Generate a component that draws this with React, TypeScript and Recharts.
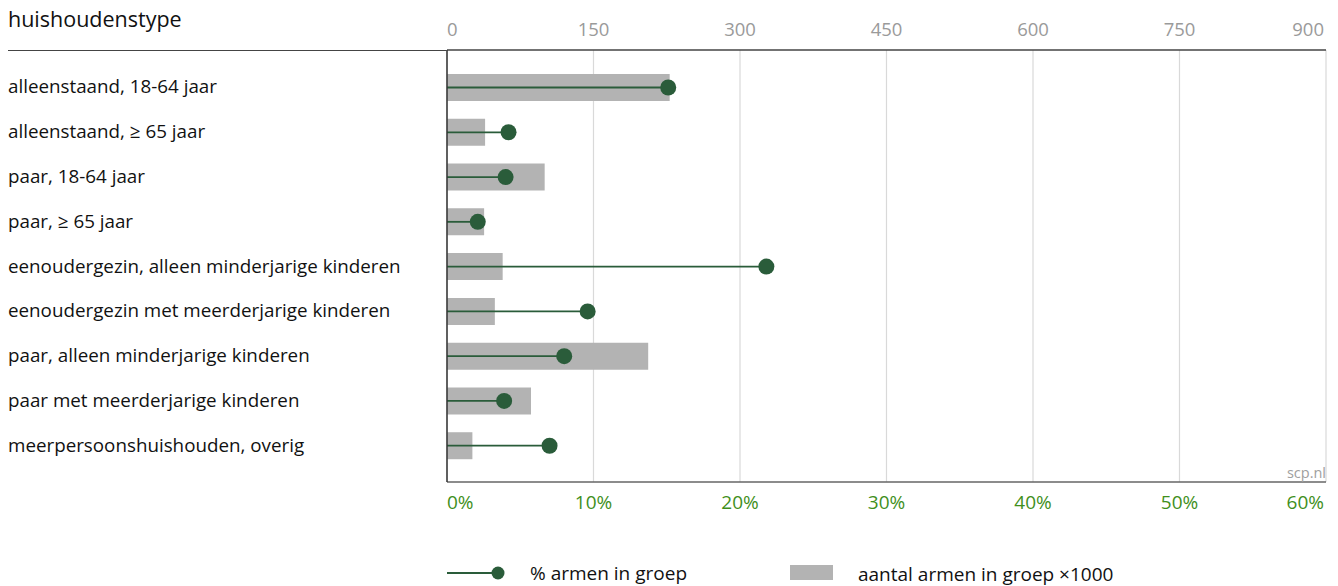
import React from 'react';
import { ComposedChart, Bar, XAxis, YAxis, CartesianGrid } from 'recharts';

const categories = [
  'alleenstaand, 18-64 jaar',
  'alleenstaand, ≥ 65 jaar',
  'paar, 18-64 jaar',
  'paar, ≥ 65 jaar',
  'eenoudergezin, alleen minderjarige kinderen',
  'eenoudergezin met meerderjarige kinderen',
  'paar, alleen minderjarige kinderen',
  'paar met meerderjarige kinderen',
  'meerpersoonshuishouden, overig',
];
const aantalArmen = [228, 39, 100, 38, 57, 49, 206, 86, 26];
const pctArmen = [15.1, 4.2, 4.0, 2.1, 21.8, 9.6, 8.0, 3.9, 7.0];
const topTicks = [0, 150, 300, 450, 600, 750, 900];
const bottomTicks = [0, 10, 20, 30, 40, 50, 60];

const data = categories.map((name, i) => ({ name, aantal: aantalArmen[i], pct: pctArmen[i] }));

const FONT = '"Open Sans", "Noto Sans", sans-serif';
const GREEN = '#2a5c3a';
const GRAY_BAR = '#b3b3b3';

const W = 1322;
const H = 520;
const PLOT_LEFT = 439;
const PLOT_RIGHT = 1318;

const anchorFor = (index: number, total: number) =>
  index === 0 ? 'start' : index === total - 1 ? 'end' : 'middle';

const TopTick = (props: any) => {
  const { x, y, payload, index } = props;
  return (
    <text x={index === topTicks.length - 1 ? x - 2 : x} y={y - 8} textAnchor={anchorFor(index, topTicks.length)} fill="#9a9a9a" fontSize={18.5} fontFamily={FONT}>
      {payload.value}
    </text>
  );
};

const BottomTick = (props: any) => {
  const { x, y, payload, index } = props;
  return (
    <text x={index === bottomTicks.length - 1 ? x - 2 : x} y={y + 21} textAnchor={anchorFor(index, bottomTicks.length)} fill="#3f8f1c" fontSize={19} fontFamily={FONT}>
      {payload.value + '%'}
    </text>
  );
};

const LeftTick = (props: any) => {
  const { y, payload } = props;
  return (
    <text x={0} y={y} dy={6} textAnchor="start" fill="#111" fontSize={18.8} fontFamily={FONT}>
      {payload.value}
    </text>
  );
};

const Lollipop = (props: any) => {
  const { x, y, width, height } = props;
  const cy = y + height / 2;
  return (
    <g>
      <line x1={x} y1={cy} x2={x + width} y2={cy} stroke={GREEN} strokeWidth={1.8} />
      <circle cx={x + width} cy={cy} r={8} fill={GREEN} />
    </g>
  );
};

export default function App() {
  return (
    <div style={{ position: 'relative', width: W, height: 578, fontFamily: FONT }}>
      <div style={{ position: 'absolute', left: 0, top: -2, fontSize: 21.5, color: '#111', lineHeight: '26px' }}>
        huishoudenstype
      </div>
      <div style={{ position: 'absolute', left: 0, top: 41.5, width: PLOT_LEFT, height: 1.5, background: '#444' }} />
      <ComposedChart
        width={W}
        height={H}
        data={data}
        layout="vertical"
        margin={{ top: 12, right: W - PLOT_RIGHT, bottom: 16, left: 0 }}
        barGap={-27}
        barSize={27}
        style={{ position: 'absolute', left: 0, top: 0 }}
      >
        <CartesianGrid horizontal={false} stroke="#d9d9d9" strokeWidth={1.2} xAxisId="bar" />
        <XAxis
          xAxisId="bar"
          type="number"
          orientation="top"
          domain={[0, 900]}
          ticks={topTicks}
          height={30}
          tickLine={false}
          tickMargin={0}
          axisLine={{ stroke: '#444', strokeWidth: 1.5 }}
          tick={<TopTick />}
          interval={0}
        />
        <XAxis
          xAxisId="pct"
          type="number"
          orientation="bottom"
          domain={[0, 60]}
          ticks={bottomTicks}
          height={30}
          tickLine={false}
          tickMargin={0}
          axisLine={{ stroke: '#666', strokeWidth: 1.5 }}
          tick={<BottomTick />}
          interval={0}
        />
        <YAxis
          type="category"
          dataKey="name"
          width={PLOT_LEFT}
          tickLine={false}
          axisLine={{ stroke: '#333', strokeWidth: 1.5 }}
          tick={<LeftTick />}
          padding={{ top: 15, bottom: 14 }}
          interval={0}
        />
        <Bar xAxisId="bar" dataKey="aantal" fill={GRAY_BAR} isAnimationActive={false} />
        <Bar xAxisId="pct" dataKey="pct" shape={<Lollipop />} isAnimationActive={false} />
      </ComposedChart>
      <div style={{ position: 'absolute', right: 4, top: 455, fontSize: 14.5, color: '#a0a0a0' }}>scp.nl</div>
      <div style={{ position: 'absolute', left: 439, top: 553, display: 'flex', alignItems: 'center', fontSize: 19, color: '#111', height: 24 }}>
        <svg width={60} height={20} style={{ display: 'block' }}>
          <line x1={0} y1={10} x2={50} y2={10} stroke={GREEN} strokeWidth={1.8} />
          <circle cx={51} cy={10} r={6.5} fill={GREEN} />
        </svg>
        <span style={{ marginLeft: 23, whiteSpace: 'nowrap' }}>% armen in groep</span>
        <div style={{ position: 'absolute', left: 343, top: 4, width: 43, height: 15, background: GRAY_BAR }} />
        <span style={{ position: 'absolute', left: 411, top: 0, whiteSpace: 'nowrap' }}>aantal armen in groep ×1000</span>
      </div>
    </div>
  );
}
